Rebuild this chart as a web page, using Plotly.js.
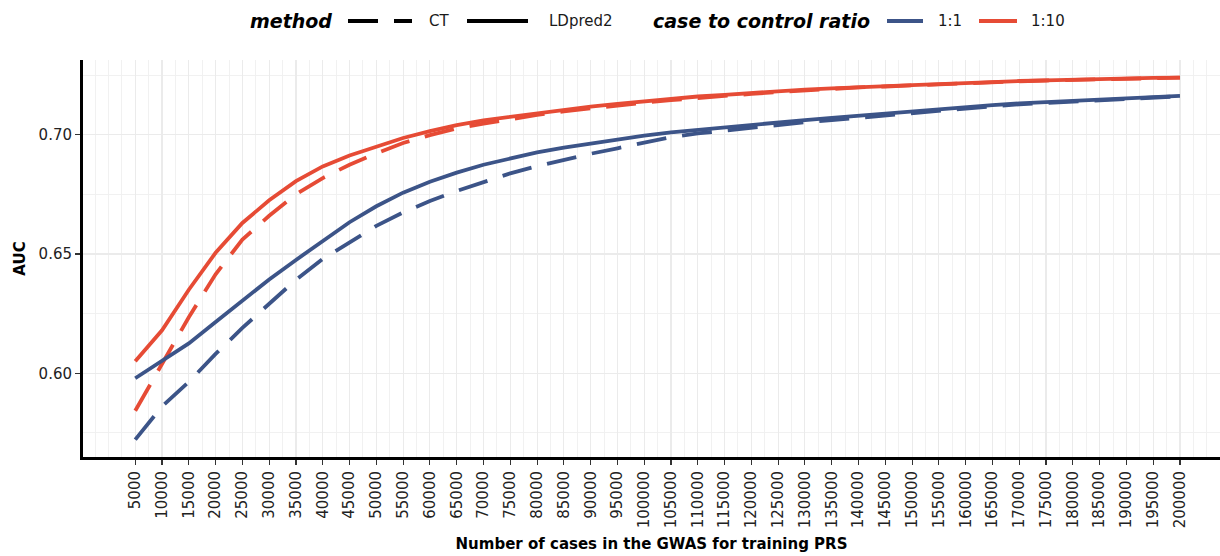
<!DOCTYPE html>
<html>
<head>
<meta charset="utf-8">
<script src="https://cdn.plot.ly/plotly-3.0.1.min.js"></script>
<style>
  html, body { margin: 0; padding: 0; background: #ffffff; }
  #chart { width: 1220px; height: 556px; }
</style>
</head>
<body>
<div id="chart"></div>
<script>
// ---- data ----
const cases = [5000, 10000, 15000, 20000, 25000, 30000, 35000, 40000, 45000, 50000,
  55000, 60000, 65000, 70000, 75000, 80000, 85000, 90000, 95000, 100000,
  105000, 110000, 115000, 120000, 125000, 130000, 135000, 140000, 145000, 150000,
  155000, 160000, 165000, 170000, 175000, 180000, 185000, 190000, 195000, 200000];

const ldpred2_1to10 = [0.6050, 0.6180, 0.6350, 0.6505, 0.6630, 0.6725, 0.6805, 0.6867, 0.6913, 0.6950,
  0.6986, 0.7015, 0.7040, 0.7060, 0.7075, 0.7090, 0.7104, 0.7118, 0.7129, 0.7140,
  0.7150, 0.7160, 0.7167, 0.7175, 0.7182, 0.7189, 0.7194, 0.7200, 0.7204, 0.7208,
  0.7212, 0.7217, 0.7221, 0.7225, 0.7228, 0.7231, 0.7233, 0.7235, 0.7238, 0.7239];

const ct_1to10 = [0.5843, 0.6040, 0.6235, 0.6415, 0.6560, 0.6660, 0.6750, 0.6818, 0.6874, 0.6922,
  0.6965, 0.6998, 0.7026, 0.7046, 0.7065, 0.7083, 0.7098, 0.7111, 0.7123, 0.7134,
  0.7145, 0.7155, 0.7163, 0.7171, 0.7179, 0.7186, 0.7192, 0.7198, 0.7202, 0.7207,
  0.7211, 0.7216, 0.7220, 0.7224, 0.7227, 0.7230, 0.7233, 0.7235, 0.7237, 0.7239];

const ldpred2_1to1 = [0.5979, 0.6050, 0.6125, 0.6215, 0.6305, 0.6393, 0.6475, 0.6555, 0.6633, 0.6700,
  0.6757, 0.6803, 0.6841, 0.6874, 0.6902, 0.6926, 0.6946, 0.6964, 0.6981, 0.6996,
  0.7010, 0.7021, 0.7032, 0.7042, 0.7052, 0.7061, 0.7070, 0.7079, 0.7087, 0.7097,
  0.7108, 0.7116, 0.7124, 0.7131, 0.7137, 0.7143, 0.7149, 0.7154, 0.7159, 0.7163];

const ct_1to1 = [0.5722, 0.5861, 0.5964, 0.6081, 0.6190, 0.6290, 0.6392, 0.6479, 0.6549, 0.6618,
  0.6674, 0.6722, 0.6764, 0.6803, 0.6838, 0.6868, 0.6896, 0.6920, 0.6943, 0.6968,
  0.6990, 0.7005, 0.7017, 0.7030, 0.7041, 0.7052, 0.7061, 0.7071, 0.7080, 0.7090,
  0.7102, 0.7111, 0.7119, 0.7127, 0.7133, 0.7140, 0.7146, 0.7151, 0.7156, 0.7161];

const xTickLabels = cases.map(v => String(v));
const yTickVals = [0.60, 0.65, 0.70];
const yTickLabels = ['0.60', '0.65', '0.70'];

const methodTitle = 'method';
const methodNames = ['CT', 'LDpred2'];
const ratioTitle = 'case to control ratio';
const ratioNames = ['1:1', '1:10'];

// ---- styles ----
const BLUE = '#3C5488';
const RED = '#E64B35';
const LW = 3.8;
const DASH = '30px,16px';
const FONT = 'DejaVu Sans, Verdana, sans-serif';

function series(name, y, color, dash) {
  return {
    name: name, x: cases, y: y, type: 'scatter', mode: 'lines',
    line: { color: color, width: LW, dash: dash },
    showlegend: false, hoverinfo: 'x+y'
  };
}

const traces = [
  series(methodNames[0] + ' ' + ratioNames[0], ct_1to1, BLUE, DASH),
  series(methodNames[0] + ' ' + ratioNames[1], ct_1to10, RED, DASH),
  series(methodNames[1] + ' ' + ratioNames[0], ldpred2_1to1, BLUE, 'solid'),
  series(methodNames[1] + ' ' + ratioNames[1], ldpred2_1to10, RED, 'solid')
];

// ---- legend drawn in the top strip (pixel -> paper helpers) ----
const M = { l: 83, r: 0, t: 60, b: 99 };
const W = 1220, H = 556;
const PW = W - M.l - M.r, PH = H - M.t - M.b;
const px = v => (v - M.l) / PW;
const py = v => (H - M.b - v) / PH;
const LEG_Y = 21;

const legendTitleFont = { family: FONT, size: 19, color: '#000000', weight: 'bold', style: 'italic' };
const legendFont = { family: FONT, size: 15, color: '#1a1a1a' };

function legText(text, left, font) {
  return { xref: 'paper', yref: 'paper', x: px(left), y: py(LEG_Y), xanchor: 'left', yanchor: 'middle',
           text: text, showarrow: false, font: font, borderpad: 0 };
}
function legKey(x0, x1, color, dash) {
  return { type: 'line', xref: 'paper', yref: 'paper', x0: px(x0), x1: px(x1), y0: py(LEG_Y), y1: py(LEG_Y),
           line: { color: color, width: LW, dash: dash } };
}

const annotations = [
  legText(methodTitle, 249, legendTitleFont),
  legText(methodNames[0], 428, legendFont),
  legText(methodNames[1], 548, legendFont),
  legText(ratioTitle, 652, legendTitleFont),
  legText(ratioNames[0], 937, legendFont),
  legText(ratioNames[1], 1030, legendFont)
];
const shapes = [
  legKey(348, 412, '#000000', DASH),
  legKey(467, 528, '#000000', 'solid'),
  legKey(887, 923, BLUE, 'solid'),
  legKey(979, 1017, RED, 'solid')
];

const layout = {
  width: W, height: H,
  margin: { l: M.l, r: M.r, t: M.t, b: M.b, pad: 0 },
  paper_bgcolor: '#ffffff', plot_bgcolor: '#ffffff',
  font: { family: FONT, size: 15, color: '#222222' },
  showlegend: false,
  xaxis: {
    range: [-4750, 207470],
    tickmode: 'array', tickvals: cases, ticktext: xTickLabels,
    tickangle: -90,
    ticks: 'outside', ticklen: 5, tickwidth: 1.1, tickcolor: '#333333',
    tickfont: { family: FONT, size: 15, color: '#222222' },
    showline: true, linewidth: 3, linecolor: '#000000',
    showgrid: true, gridcolor: '#ebebeb', gridwidth: 1.1,
    minor: { tick0: 0, dtick: 2500, showgrid: true, gridcolor: '#f0f0f0', gridwidth: 0.9, ticks: '' },
    zeroline: false,
    title: { text: 'Number of cases in the GWAS for training PRS',
             font: { family: FONT, size: 15, color: '#000000', weight: 'bold' }, standoff: 12 }
  },
  yaxis: {
    range: [0.5649, 0.7313],
    tickmode: 'array', tickvals: yTickVals, ticktext: yTickLabels,
    ticks: 'outside', ticklen: 5, tickwidth: 1.1, tickcolor: '#333333',
    tickfont: { family: FONT, size: 15, color: '#222222' },
    showline: true, linewidth: 3, linecolor: '#000000',
    showgrid: true, gridcolor: '#ebebeb', gridwidth: 1.1,
    minor: { tick0: 0.575, dtick: 0.025, showgrid: true, gridcolor: '#f0f0f0', gridwidth: 0.9, ticks: '' },
    zeroline: false,
    title: { text: 'AUC', font: { family: FONT, size: 15, color: '#000000', weight: 'bold' }, standoff: 10 }
  },
  annotations: annotations,
  shapes: shapes
};

Plotly.newPlot('chart', traces, layout, { displayModeBar: false, staticPlot: true });
</script>
</body>
</html>
